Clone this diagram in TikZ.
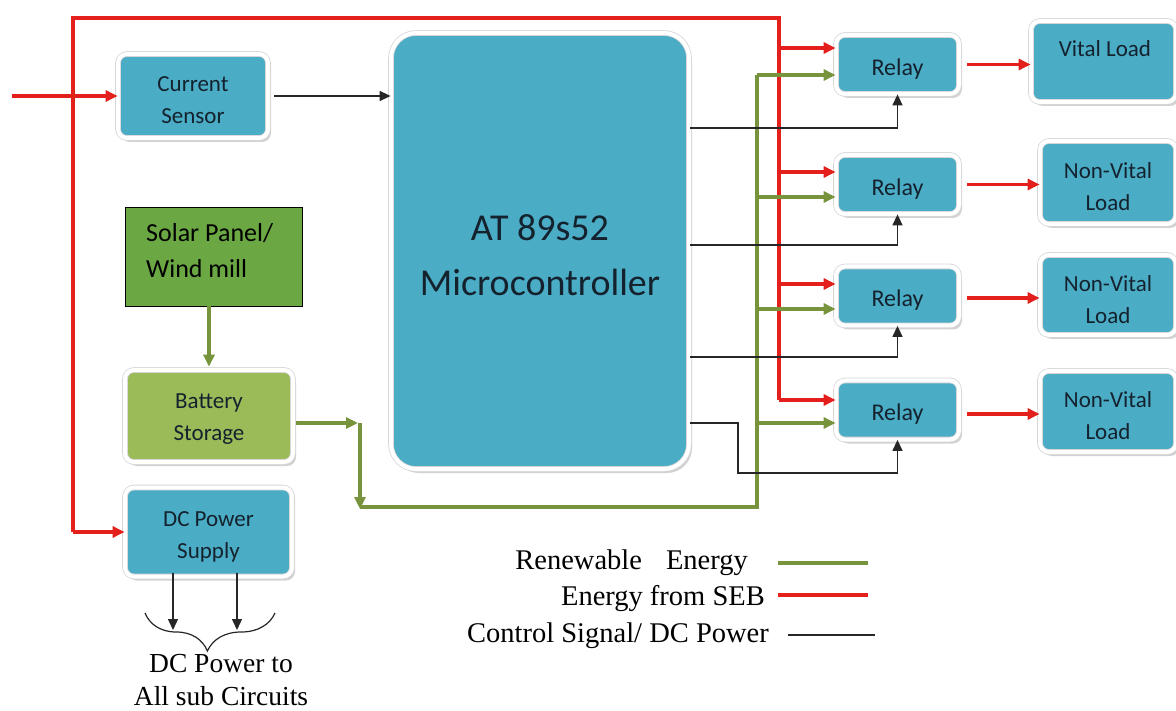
\documentclass[tikz,border=0pt]{standalone}
\usepackage{fontspec}
\setmainfont{Liberation Serif}
\newfontfamily\calib{Carlito}
\usetikzlibrary{arrows.meta,shadows,decorations.pathreplacing}
\definecolor{cblue}{HTML}{4BACC6}
\definecolor{ctext}{HTML}{14222E}
\definecolor{cbat}{HTML}{9BBB59}
\definecolor{csolar}{HTML}{6BA843}
\definecolor{cgreen}{HTML}{77933C}
\definecolor{cred}{HTML}{E3201B}
\newcommand\lift[1]{\rule{0pt}{#1}}
\begin{document}
\begin{tikzpicture}[x=1pt,y=-1pt,
  bx/.style={rounded corners=9pt, fill=cblue, draw=black!16, line width=0.8pt,
    double=white, double distance=4pt,
    drop shadow={shadow xshift=3pt, shadow yshift=-4pt, fill=black!25, opacity=0.7},
    font=\calib\fontsize{23}{32}\selectfont, text=ctext, align=center, inner sep=0pt},
  redl/.style={draw=cred, line width=3.2pt},
  redarrow/.style={redl, -{Triangle[length=12pt,width=11pt]}},
  greenl/.style={draw=cgreen, line width=3.2pt},
  greenarrow/.style={greenl, -{Triangle[length=12pt,width=11pt]}},
  ctrl/.style={draw=black!85, line width=1.4pt},
  ctrlarrow/.style={ctrl, -{Triangle[length=11pt,width=10pt]}},
  legtext/.style={font=\fontsize{28.5}{33}\selectfont, anchor=base east, inner sep=0pt},
  lab/.style={font=\calib\fontsize{23}{32}\selectfont, text=ctext, inner sep=0pt}
]
\useasboundingbox (0,0) rectangle (1176,711);

% boxes
\node[bx, minimum width=150pt, minimum height=84pt] (cs) at (193,96) {\lift{24pt}Current\\Sensor};
\node[bx, rounded corners=25pt, minimum width=298pt, minimum height=436pt,
      font=\calib\fontsize{38}{55}\selectfont] (mc) at (540,251) {\lift{35pt}AT 89s52\\Microcontroller};
\node[draw=black, line width=0.8pt, fill=csolar, minimum width=177pt, minimum height=99pt] (sp) at (213.5,256.5) {};
\node[font=\calib\fontsize{26}{36}\selectfont, align=left, anchor=west, inner sep=0pt, text=black] (spt) at (146,251) {Solar Panel/\\Wind mill};
\node[bx, fill=cbat, minimum width=168pt, minimum height=92pt] (bat) at (209,416) {\lift{20pt}Battery\\Storage};
\node[bx, minimum width=167pt, minimum height=89pt] (dc) at (208.5,532) {\lift{25pt}DC Power\\Supply};

\foreach \n/\y in {r1/64.5, r2/184.5, r3/296, r4/410}
  \node[bx, minimum width=123pt, minimum height=59pt, font=\calib\fontsize{24}{30}\selectfont] (\n) at (897.5,\y) {\lift{25pt}Relay};

\node[bx, minimum width=145pt, minimum height=81pt] (vl) at (1103.5,61.5) {};
\node[lab] (vlt) at (1105,49) {Vital Load};
\node[bx, minimum width=136pt, minimum height=83pt] (nv2) at (1108,182.5) {\lift{25pt}Non-Vital\\Load};
\node[bx, minimum width=136pt, minimum height=80pt] (nv3) at (1108,295) {\lift{25pt}Non-Vital\\Load};
\node[bx, minimum width=136pt, minimum height=81pt] (nv4) at (1108,411.5) {\lift{25pt}Non-Vital\\Load};

% red supply network
\coordinate (in) at (12,96);
\coordinate (dcin) at (73,532);
\coordinate (tl) at (73,18);
\coordinate (tr) at (779,18);
\coordinate (rb) at (779,400);
\draw[redarrow] (in) -- (cs.west |- in);
\draw[redl] (dcin) -- (tl) -- (tr) -- (rb);
\draw[redarrow] (dcin) -- (dc.west |- dcin);
\foreach \n/\y in {r1/48, r2/172, r3/284, r4/400}{
  \coordinate (rj) at (779,\y);
  \draw[redarrow] (rj) -- (rj -| \n.west);
}
% relay to loads
\draw[redarrow] ([xshift=8pt]r1.east) -- (r1.east -| vl.west);
\draw[redarrow] ([xshift=8pt]r2.east) -- (r2.east -| nv2.west);
\draw[redarrow] ([xshift=8pt,yshift=-2pt]r3.east) -- ([yshift=-2pt]r3.east -| nv3.west);
\draw[redarrow] ([xshift=8pt,yshift=-4pt]r4.east) -- ([yshift=-4pt]r4.east -| nv4.west);

% green renewable network
\draw[greenarrow] (sp.south -| bat.north) -- ([yshift=3pt]bat.north);
\coordinate (g0) at (296,423);
\coordinate (g1) at (360,423);
\coordinate (g2) at (360,507);
\coordinate (g3) at (757,507);
\coordinate (g4) at (757,75);
\draw[greenarrow] (g0) -- ([xshift=-2pt]g1);
\draw[greenarrow] (g1) -- ([yshift=-2pt]g2);
\draw[greenl] (g2) -- (g3) -- (g4);
\foreach \n/\y in {r1/75, r2/197, r3/309, r4/423}{
  \coordinate (gj) at (757,\y);
  \draw[greenarrow] (gj) -- (gj -| \n.west);
}

% control signals
\draw[ctrlarrow] ([xshift=6pt]cs.east) -- (cs.east -| mc.west);
\coordinate (c1) at (690,128);
\coordinate (c2) at (690,245);
\coordinate (c3) at (690,357);
\coordinate (c4) at (690,423);
\coordinate (c4a) at (738,423);
\coordinate (c4b) at (738,473);
\draw[ctrlarrow] (c1) -| (r1.south);
\draw[ctrlarrow] (c2) -| (r2.south);
\draw[ctrlarrow] (c3) -| (r3.south);
\draw[ctrlarrow] (c4) -- (c4a) -- (c4b) -| (r4.south);

% DC outputs
\coordinate (o1) at (173,630);
\coordinate (o2) at (237,630);
\draw[ctrlarrow] ([yshift=4pt]o1 |- dc.south) -- (o1);
\draw[ctrlarrow] ([yshift=4pt]o2 |- dc.south) -- (o2);
\coordinate (b1) at (145,613);
\coordinate (b2) at (275,613);
\draw[black!85, line width=1.2pt, decorate, decoration={brace, mirror, amplitude=38pt, aspect=0.48}] (b1) -- (b2);
\node[font=\fontsize{27.5}{33}\selectfont, align=center, inner sep=0pt] (dct) at (221,680) {DC Power to\\All sub Circuits};

% legend
\node[legtext] (lg1) at (748,569) {Renewable\hspace{24pt}Energy};
\node[legtext] (lg2) at (765,605) {Energy from SEB};
\node[legtext] (lg3) at (769,642) {Control Signal/ DC Power};
\coordinate (l1a) at (778,563); \coordinate (l1b) at (868,563);
\coordinate (l2a) at (778,595); \coordinate (l2b) at (868,595);
\coordinate (l3a) at (788,635); \coordinate (l3b) at (875,635);
\draw[greenl] (l1a) -- (l1b);
\draw[redl] (l2a) -- (l2b);
\draw[ctrl] (l3a) -- (l3b);
\end{tikzpicture}
\end{document}
